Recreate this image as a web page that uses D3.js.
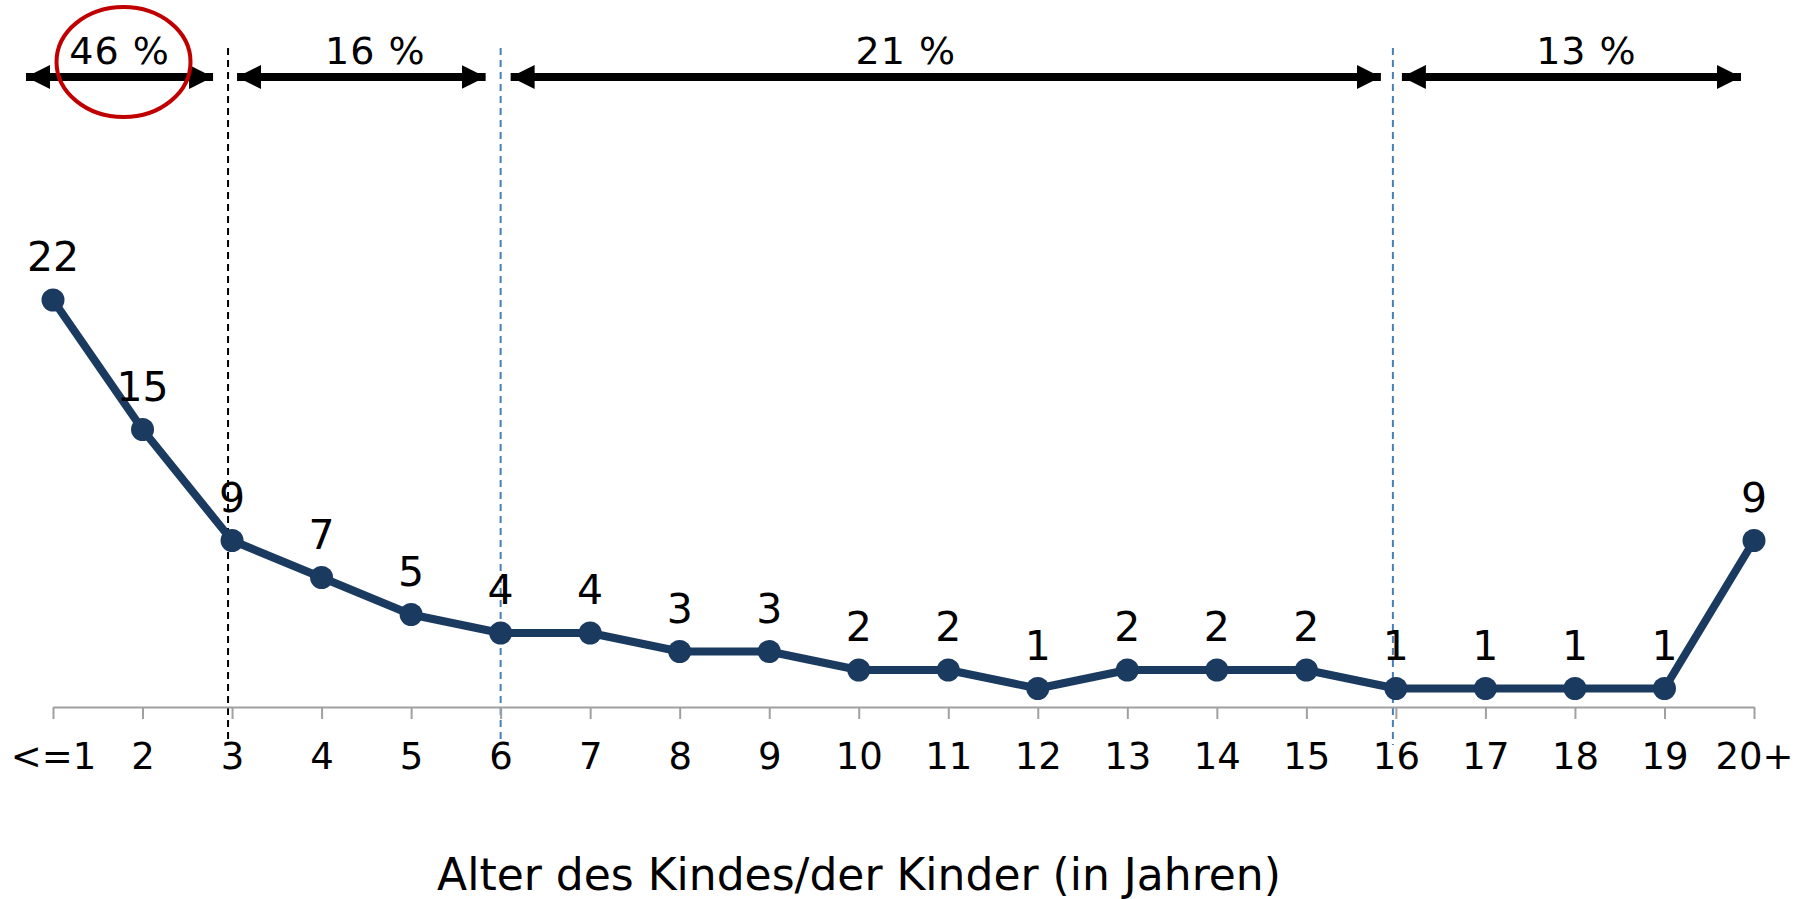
<!DOCTYPE html>
<html>
<head>
<meta charset="utf-8">
<script src="https://cdn.jsdelivr.net/npm/d3@7/dist/d3.min.js"></script>
<style>
  body { margin: 0; background: #fff; }
  text { font-family: "DejaVu Sans", Verdana, sans-serif; fill: #000; }
</style>
</head>
<body>
<svg id="plot"></svg>
<script>
// Data
const categories = ["<=1", "2", "3", "4", "5", "6", "7", "8", "9", "10",
                    "11", "12", "13", "14", "15", "16", "17", "18", "19", "20+"];
const values = [22, 15, 9, 7, 5, 4, 4, 3, 3, 2, 2, 1, 2, 2, 2, 1, 1, 1, 1, 9];
const groupLabels = ["46 %", "16 %", "21 %", "13 %"];
const groupStart = ["<=1", "3", "6", "16"];
const groupEnd = ["3", "6", "16", "20+"];
const dividers = ["3", "6", "16"];
const axisTitle = "Alter des Kindes/der Kinder (in Jahren)";

const width = 1808, height = 899;
const navy = "#1b3a60";

const svg = d3.select("#plot")
    .attr("width", width)
    .attr("height", height);

// Scales
const x = d3.scalePoint()
    .domain(categories)
    .range([53, 1754]);

const y = d3.scaleLinear()
    .domain([0, 22])
    .range([707, 300]);

// Arrowhead markers
const defs = svg.append("defs");
["start", "end"].forEach(k => {
    defs.append("marker")
        .attr("id", "arrow-" + k)
        .attr("viewBox", "0 0 24 24")
        .attr("refX", k === "end" ? 24 : 0)
        .attr("refY", 12)
        .attr("markerWidth", 24)
        .attr("markerHeight", 24)
        .attr("markerUnits", "userSpaceOnUse")
        .attr("orient", "auto")
        .append("path")
        .attr("d", k === "end" ? "M0,0 L24,12 L0,24 Z" : "M24,0 L0,12 L24,24 Z")
        .attr("fill", "#000");
});

// Divider lines
const dividerStyle = {
    "3": { color: "#000", shift: -4 },
    "6": { color: "#4a7ebb", shift: 0 },
    "16": { color: "#4a7ebb", shift: -3 }
};
svg.selectAll(".divider")
    .data(dividers)
    .enter().append("line")
    .attr("class", "divider")
    .attr("x1", d => x(d) + dividerStyle[d].shift)
    .attr("x2", d => x(d) + dividerStyle[d].shift)
    .attr("y1", 48)
    .attr("y2", 745)
    .attr("stroke", d => dividerStyle[d].color)
    .attr("stroke-width", 2)
    .attr("stroke-dasharray", "7,5");

// Group arrows on top
const groups = groupLabels.map((label, i) => ({
    label: label,
    x1: x(groupStart[i]),
    x2: x(groupEnd[i])
}));
const insets = [[-27, -19, 0], [5, -15, 14], [10, -15, -40], [6, -13, 15]];

const arrowY = 77;
svg.selectAll(".grp-arrow")
    .data(groups)
    .enter().append("line")
    .attr("class", "grp-arrow")
    .attr("x1", (d, i) => d.x1 + insets[i][0])
    .attr("x2", (d, i) => d.x2 + insets[i][1])
    .attr("y1", arrowY)
    .attr("y2", arrowY)
    .attr("stroke", "#000")
    .attr("stroke-width", 8)
    .attr("marker-start", "url(#arrow-start)")
    .attr("marker-end", "url(#arrow-end)");

svg.selectAll(".grp-label")
    .data(groups)
    .enter().append("text")
    .attr("class", "grp-label")
    .attr("x", (d, i) => (d.x1 + insets[i][0] + d.x2 + insets[i][1]) / 2 + insets[i][2])
    .attr("y", 64)
    .attr("text-anchor", "middle")
    .style("font-size", "38px")
    .style("letter-spacing", "1px")
    .text(d => d.label);

// Red highlight ellipse around the first group
svg.append("ellipse")
    .attr("cx", (groups[0].x1 + insets[0][0] + groups[0].x2 + insets[0][1]) / 2 + 4)
    .attr("cy", 62)
    .attr("rx", 67)
    .attr("ry", 55)
    .attr("fill", "none")
    .attr("stroke", "#c00000")
    .attr("stroke-width", 4);

// X axis
const xAxis = svg.append("g")
    .attr("transform", `translate(0,${y(0)})`)
    .call(d3.axisBottom(x).tickSize(12).tickSizeOuter(0).tickPadding(20));
xAxis.select(".domain")
    .attr("stroke", "#a0a0a0")
    .attr("stroke-width", 2);
xAxis.selectAll(".tick line")
    .attr("stroke", "#a0a0a0")
    .attr("stroke-width", 2);
xAxis.selectAll(".tick text")
    .attr("dy", null)
    .attr("y", 62)
    .style("font-family", "\"DejaVu Sans\", Verdana, sans-serif")
    .style("font-size", "37px")
    .attr("fill", "#000");

// Line
const line = d3.line()
    .x((d, i) => x(categories[i]))
    .y(d => y(d));

svg.append("path")
    .datum(values)
    .attr("fill", "none")
    .attr("stroke", navy)
    .attr("stroke-width", 8)
    .attr("stroke-linejoin", "round")
    .attr("d", line);

// Points
svg.selectAll(".dot")
    .data(values)
    .enter().append("circle")
    .attr("class", "dot")
    .attr("cx", (d, i) => x(categories[i]))
    .attr("cy", d => y(d))
    .attr("r", 11.5)
    .attr("fill", navy);

// Value labels
svg.selectAll(".val")
    .data(values)
    .enter().append("text")
    .attr("class", "val")
    .attr("x", (d, i) => x(categories[i]))
    .attr("y", d => y(d) - 29)
    .attr("text-anchor", "middle")
    .style("font-size", "41px")
    .text(d => d);

// Axis title
svg.append("text")
    .attr("x", 859)
    .attr("y", 890)
    .attr("text-anchor", "middle")
    .style("font-size", "44px")
    .text(axisTitle);
</script>
</body>
</html>
